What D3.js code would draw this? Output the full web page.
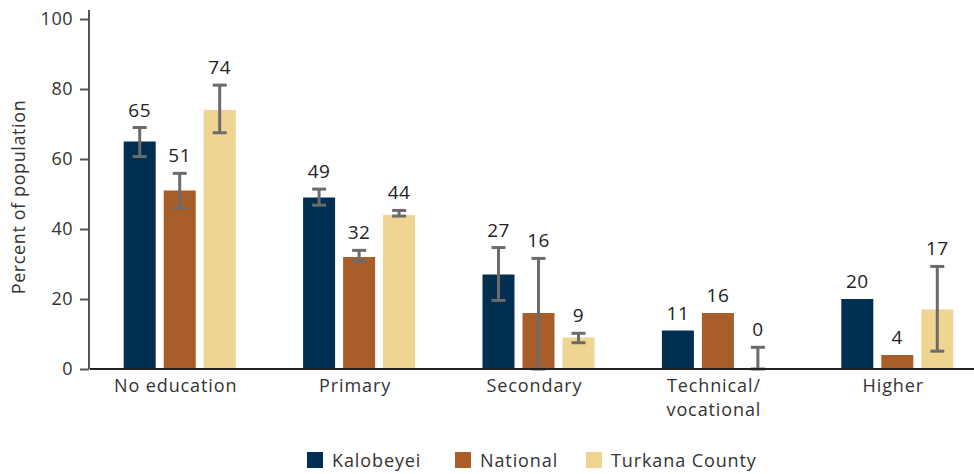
<!DOCTYPE html>
<html>
<head>
<meta charset="utf-8">
<script src="https://cdn.jsdelivr.net/npm/d3@7"></script>
<style>
  body { margin: 0; background: #fff; }
  svg text { font-family: "Open Sans", Lato, sans-serif; font-weight: 400; }
</style>
</head>
<body>
<div id="chart"></div>
<script>
//categories and series
const categories = ["No education", "Primary", "Secondary", "Technical/\nvocational", "Higher"];
const seriesNames = ["Kalobeyei", "National", "Turkana County"];
const colors = ["#002f52", "#a95e2a", "#efd492"];

const kalobeyei = [65, 49, 27, 11, 20];
const national = [51, 32, 16, 16, 4];
const turkana = [74, 44, 9, 0, 17];

//error bars [low, high], null = none
const kalobeyeiErr = [[60.7, 69], [46.8, 51.4], [19.6, 34.7], null, null];
const nationalErr = [[46, 55.9], [30.9, 33.9], [0, 31.6], null, null];
const turkanaErr = [[67.5, 81.1], [43.7, 45.3], [7.5, 10.2], [0, 6.2], [5.1, 29.3]];

const yTicks = [0, 20, 40, 60, 80, 100];

const values = [kalobeyei, national, turkana];
const errors = [kalobeyeiErr, nationalErr, turkanaErr];

const width = 974, height = 474;
const margin = { top: 19, left: 90, bottom: 105 };
const plotBottom = height - margin.bottom; // 369

const svg = d3.select("#chart").append("svg")
  .attr("width", width)
  .attr("height", height);

//scales
const x = d3.scaleBand()
  .domain(d3.range(categories.length))
  .range([margin.left, margin.left + 5 * 179.4])
  .padding(0);

const barW = 32, barGap = 8;
const offset = i => x.bandwidth() / 2 - (3 * barW + 2 * barGap) / 2 + i * (barW + barGap);

const y = d3.scaleLinear().domain([0, 100]).range([plotBottom, margin.top]);

//y axis
const yaxis = d3.axisLeft(y).tickValues(yTicks).tickSize(9).tickPadding(7);
const yg = svg.append("g")
  .attr("transform", `translate(${margin.left - 1},0)`)
  .call(yaxis);
yg.select(".domain").remove();
yg.append("line")
  .attr("x1", 0).attr("x2", 0)
  .attr("y1", 10).attr("y2", plotBottom)
  .attr("stroke", "#555").attr("stroke-width", 2);
yg.selectAll(".tick line").attr("stroke", "#555").attr("stroke-width", 2);
yg.selectAll(".tick text")
  .attr("fill", "#333")
  .style("font-size", "18px")
  .style("letter-spacing", "0.5px");

//y label
svg.append("text")
  .attr("transform", `translate(25,${(margin.top + plotBottom) / 2 + 3}) rotate(-90)`)
  .attr("text-anchor", "middle")
  .attr("fill", "#333")
  .style("font-size", "18px")
  .style("letter-spacing", "0.6px")
  .text("Percent of population");

//bars
seriesNames.forEach((name, s) => {
  const g = svg.append("g").attr("class", "series");
  g.selectAll("rect")
    .data(values[s])
    .enter()
    .append("rect")
    .attr("x", (d, i) => x(i) + offset(s))
    .attr("y", d => y(d))
    .attr("width", barW)
    .attr("height", d => plotBottom - y(d))
    .attr("fill", colors[s]);

  //error bars
  const err = errors[s].map((e, i) => ({ e, i })).filter(d => d.e);
  const eg = g.selectAll(".err").data(err).enter().append("g")
    .attr("class", "err")
    .attr("stroke", "#6b6b6b")
    .attr("stroke-width", 3);
  const cx = d => x(d.i) + offset(s) + barW / 2;
  eg.append("line")
    .attr("x1", cx).attr("x2", cx)
    .attr("y1", d => y(d.e[0])).attr("y2", d => y(d.e[1]));
  eg.append("line")
    .attr("x1", d => cx(d) - 7).attr("x2", d => cx(d) + 7)
    .attr("y1", d => y(d.e[1])).attr("y2", d => y(d.e[1]));
  eg.append("line")
    .attr("x1", d => cx(d) - 7).attr("x2", d => cx(d) + 7)
    .attr("y1", d => y(d.e[0])).attr("y2", d => y(d.e[0]));

  //value labels
  g.selectAll(".val")
    .data(values[s])
    .enter()
    .append("text")
    .attr("class", "val")
    .attr("x", (d, i) => x(i) + offset(s) + barW / 2)
    .attr("y", (d, i) => {
      const top = errors[s][i] ? Math.max(d, errors[s][i][1]) : d;
      return y(top) - 11;
    })
    .attr("text-anchor", "middle")
    .attr("fill", "#222")
    .style("font-size", "19px")
    .style("letter-spacing", "0.5px")
    .text(d => d);
});

//x axis line
svg.append("line")
  .attr("x1", margin.left).attr("x2", width)
  .attr("y1", plotBottom).attr("y2", plotBottom)
  .attr("stroke", "#222").attr("stroke-width", 2);

//category labels
const catText = svg.selectAll(".cat")
  .data(categories)
  .enter()
  .append("text")
  .attr("class", "cat")
  .attr("text-anchor", "middle")
  .attr("fill", "#333")
  .style("font-size", "18px")
  .style("letter-spacing", "0.9px")
  .attr("transform", (d, i) => `translate(${x(i) + x.bandwidth() / 2 - 4},392)`);
catText.selectAll("tspan")
  .data(d => d.split("\n"))
  .enter()
  .append("tspan")
  .attr("x", 0)
  .attr("dy", (d, i) => i === 0 ? 0 : 24)
  .text(d => d);

//legend
const legendX = [307, 455, 586];
const legend = svg.selectAll(".legend")
  .data(seriesNames)
  .enter()
  .append("g")
  .attr("class", "legend")
  .attr("transform", (d, i) => `translate(${legendX[i]},452)`);
legend.append("rect")
  .attr("width", 16).attr("height", 16)
  .attr("fill", (d, i) => colors[i]);
legend.append("text")
  .attr("x", 25).attr("y", 15)
  .attr("fill", "#333")
  .style("font-size", "18px")
  .style("letter-spacing", "0.9px")
  .text(d => d);
</script>
</body>
</html>
